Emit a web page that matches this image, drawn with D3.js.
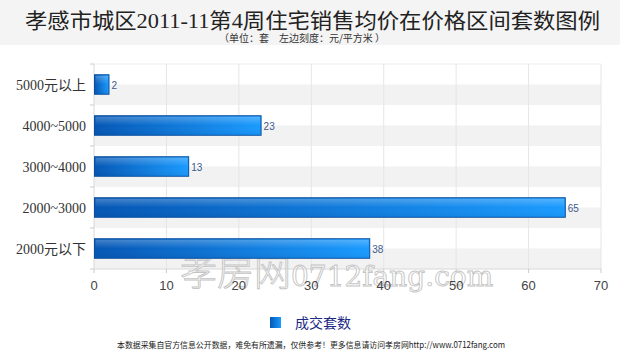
<!DOCTYPE html>
<html><head><meta charset="utf-8">
<script src="https://cdn.jsdelivr.net/npm/d3@7"></script>
<style>body{margin:0;background:#fff}svg{display:block}</style>
</head><body>
<svg id="c" width="620" height="358"></svg>
<script>
const categories = ["5000元以上","4000~5000","3000~4000","2000~3000","2000元以下"];
const values = [2,23,13,65,38];
const xTicks = [0,10,20,30,40,50,60,70];
const seriesName = "成交套数";
const title = "孝感市城区2011-11第4周住宅销售均价在价格区间套数图例";
const subtitle = "（单位：套　左边刻度：元/平方米 ）";
const footer = "本数据采集自官方信息公开数据，难免有所遗漏，仅供参考！更多信息请访问孝房网http://www.0712fang.com";

const svg = d3.select("#c");
const L = 94, R = 601, T = 64, B = 269;
const x = d3.scaleLinear().domain([0,70]).range([L,R]);
const y = d3.scaleBand().domain(categories).range([T,B]).paddingInner(0.5).paddingOuter(0.25);

const defs = svg.append("defs");
const g1 = defs.append("linearGradient").attr("id","bar").attr("x1","0").attr("x2","1").attr("y1","0").attr("y2","0");
g1.append("stop").attr("offset","0").attr("stop-color","#0557b5");
g1.append("stop").attr("offset","1").attr("stop-color","#1a9bff");
const g2 = defs.append("linearGradient").attr("id","shine").attr("x1","0").attr("x2","0").attr("y1","0").attr("y2","1");
g2.append("stop").attr("offset","0").attr("stop-color","#fff").attr("stop-opacity",0.25);
g2.append("stop").attr("offset","0.5").attr("stop-color","#fff").attr("stop-opacity",0.0);
g2.append("stop").attr("offset","1").attr("stop-color","#000").attr("stop-opacity",0.05);

// title background
svg.append("rect").attr("x",0).attr("y",0).attr("width",620).attr("height",45).attr("fill","#f4f4f4");
svg.append("text").attr("x",25).attr("y",28).attr("textLength",575).attr("lengthAdjust","spacingAndGlyphs")
  .attr("font-family","'Liberation Serif','Noto Sans CJK SC'").attr("font-size",21).attr("fill","#222").text(title);
svg.append("text").attr("x",302).attr("y",42).attr("text-anchor","middle")
  .attr("font-family","'Noto Sans CJK SC'").attr("font-size",10).attr("fill","#333").text(subtitle);

// stripes
const step = y.step();
svg.append("g").selectAll("rect").data(categories).join("rect")
  .attr("x",L).attr("width",R-L)
  .attr("y",d=>y(d)+y.bandwidth()/2).attr("height",step/2)
  .attr("fill","#f2f2f2");
svg.append("line").attr("x1",L).attr("x2",R).attr("y1",T).attr("y2",T).attr("stroke","#ececec");

// vertical grid
svg.append("g").selectAll("line").data(xTicks.slice(1)).join("line")
  .attr("x1",d=>x(d)).attr("x2",d=>x(d)).attr("y1",T).attr("y2",B)
  .attr("stroke","#e6e6e6");

// axes
svg.append("line").attr("x1",L).attr("x2",L).attr("y1",T).attr("y2",B).attr("stroke","#d8d8d8");
const bounds = categories.map(c=>y(c)-step*0.25).concat([B]);
svg.append("g").selectAll("line").data(bounds).join("line")
  .attr("x1",L-4).attr("x2",L).attr("y1",d=>d).attr("y2",d=>d).attr("stroke","#ccc");
svg.append("line").attr("x1",L).attr("x2",R).attr("y1",B).attr("y2",B).attr("stroke","#d8d8d8");
svg.append("g").selectAll("line").data(xTicks).join("line")
  .attr("x1",d=>x(d)).attr("x2",d=>x(d)).attr("y1",B).attr("y2",B+4).attr("stroke","#ccc");

// category labels
svg.append("g").selectAll("text").data(categories).join("text")
  .attr("x",86).attr("y",d=>y(d)+y.bandwidth()/2+5).attr("text-anchor","end")
  .attr("font-family","'Liberation Serif','Noto Sans CJK SC'").attr("font-size",14).attr("fill","#333")
  .text(d=>d);

// watermark (behind tick labels)
const wm = svg.append("text").attr("x",180).attr("y",286)
  .attr("fill","#fff").attr("fill-opacity",0.5).attr("stroke","#c4c4c4").attr("stroke-width",0.9);
wm.append("tspan").attr("font-family","'Noto Sans CJK SC'").attr("font-size",37).attr("font-weight",300).text("孝房网");
wm.append("tspan").attr("font-family","'DejaVu Serif'").attr("font-size",28).text("0712fang.com");

// x tick labels
svg.append("g").selectAll("text").data(xTicks).join("text")
  .attr("x",d=>x(d)).attr("y",290).attr("text-anchor","middle")
  .attr("font-family","'Liberation Sans'").attr("font-size",13).attr("fill","#444")
  .text(d=>d);

// bars
const bars = svg.append("g");
bars.selectAll("rect.b").data(values).join("rect").attr("class","b")
  .attr("x",x(0)+0.5).attr("y",(d,i)=>y(categories[i])+0.5)
  .attr("width",d=>x(d)-x(0)).attr("height",y.bandwidth()-1)
  .attr("fill","url(#bar)").attr("stroke","#0a4f9e").attr("stroke-width",1);
bars.selectAll("rect.s").data(values).join("rect").attr("class","s")
  .attr("x",x(0)+1.5).attr("y",(d,i)=>y(categories[i])+1.5)
  .attr("width",d=>x(d)-x(0)-2).attr("height",y.bandwidth()-3)
  .attr("fill","url(#shine)");
bars.selectAll("text").data(values).join("text")
  .attr("x",d=>x(d)+3).attr("y",(d,i)=>y(categories[i])+y.bandwidth()/2+4)
  .attr("font-family","'Liberation Sans'").attr("font-size",10).attr("fill","#3b5b8c")
  .text(d=>d);

// legend
svg.append("rect").attr("x",270).attr("y",317).attr("width",11).attr("height",11).attr("fill","url(#bar)");
svg.append("text").attr("x",295).attr("y",328).attr("font-family","'Noto Sans CJK SC'").attr("font-size",14)
  .attr("fill","#1c2a86").text(seriesName);

// footer
svg.append("text").attr("x",311).attr("y",348).attr("text-anchor","middle")
  .attr("font-family","'Noto Sans CJK SC'").attr("font-size",8.5).attr("fill","#222")
  .attr("textLength",388).attr("lengthAdjust","spacingAndGlyphs").text(footer);
</script>
</body></html>
